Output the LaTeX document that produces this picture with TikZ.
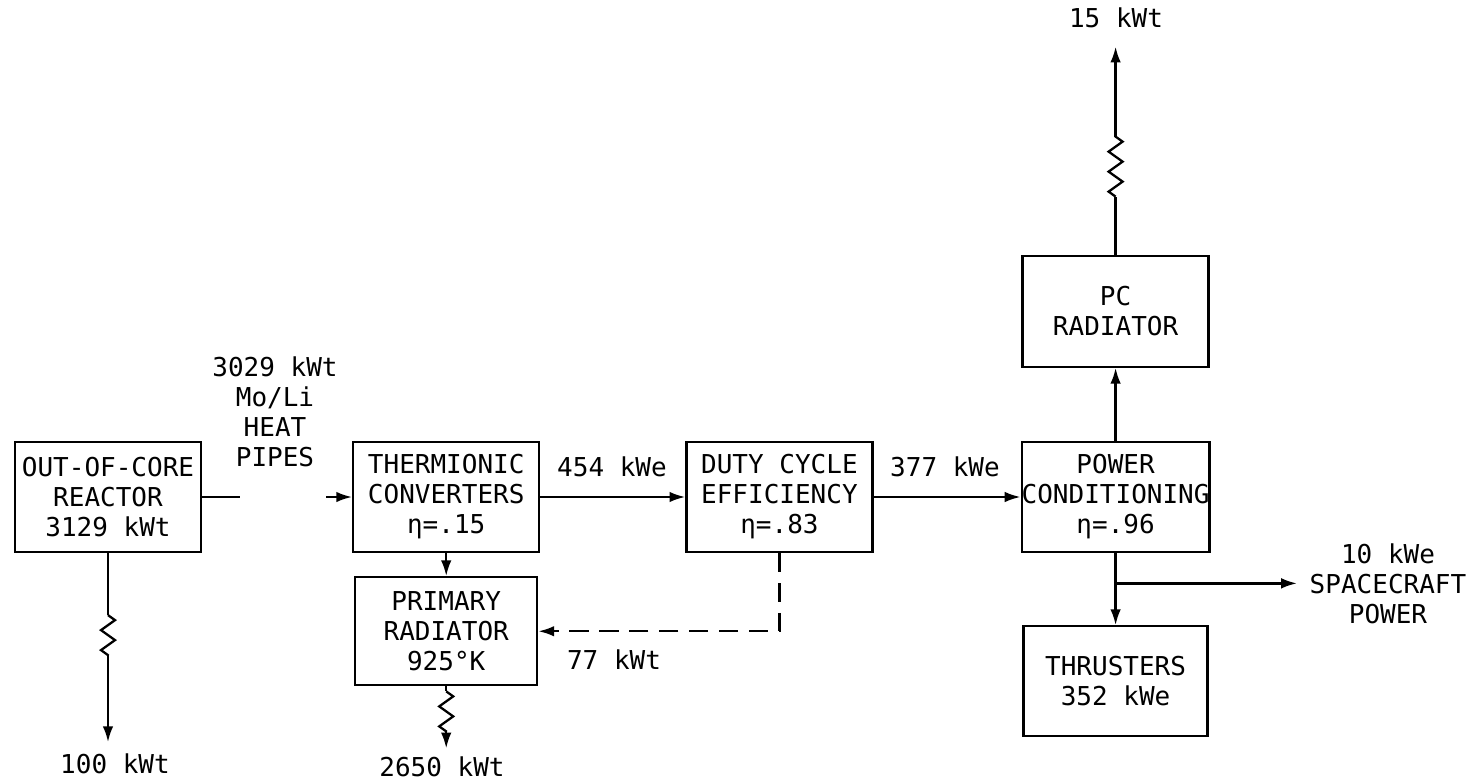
\documentclass[tikz,border=0pt]{standalone}
\usepackage{fontspec}
\setmainfont{DejaVu Sans Mono}
\usetikzlibrary{positioning, arrows.meta, decorations.pathmorphing, calc}

\begin{document}
\begin{tikzpicture}[x=0.02cm, y=-0.02cm, >={Latex[length=9pt,width=6pt]}, line width=1.3pt,
    every node/.style={font=\fontsize{14.8}{17.1}\selectfont, align=center}]
    \tikzstyle{block} = [rectangle, draw, minimum width=3.72cm, minimum height=2.2cm, inner sep=0pt]
    \tikzstyle{line} = [draw, ->]
    \tikzstyle{heatloss} = [draw, decorate, decoration={zigzag, segment length=0.4cm, amplitude=0.14cm}]
    \useasboundingbox (0,0) rectangle (1484,784);

    % main chain
    \node [block] (reactor) at (108,497) {OUT-OF-CORE\\REACTOR\\3129 kWt};
    \node [block, right=3.0cm of reactor] (therm) {THERMIONIC\\CONVERTERS\\η=.15};
    \node [block, right=2.9cm of therm] (duty) {DUTY CYCLE\\EFFICIENCY\\η=.83};
    \node [block, right=2.94cm of duty] (power) {POWER\\CONDITIONING\\η=.96};
    \node [block, above=1.46cm of power, minimum height=2.22cm] (pcrad) {PC\\RADIATOR};
    \node [block, below=1.44cm of power, minimum width=3.68cm] (thrust) {THRUSTERS\\352 kWe};
    \node [block, below=0.46cm of therm, minimum width=3.64cm, minimum height=2.16cm] (primary) {PRIMARY\\RADIATOR\\925°K};

    % labels
    \node (lpipes) at (275,412) {3029 kWt\\Mo/Li\\HEAT\\PIPES};
    \node (l454) at (612,467) {454 kWe};
    \node (l377) at (945,467) {377 kWe};
    \node (l77) at (614,660) {77 kWt};
    \node (l100) at (115,764) {100 kWt};
    \node (l2650) at (442,767) {2650 kWt};
    \node (l15) at (1116,18) {15 kWt};
    \node (lsc) at (1388,584) {10 kWe\\SPACECRAFT\\POWER};

    \coordinate (hp1) at (240,497);
    \coordinate (hp2) at (326,497);
    \coordinate (r1) at ($(reactor.south)+(0,62)$);
    \coordinate (r2) at ($(reactor.south)+(0,102)$);
    \coordinate (r3) at ($(reactor.south)+(0,189)$);
    \coordinate (p1) at ($(primary.south)+(0,5)$);
    \coordinate (p2) at ($(primary.south)+(0,45)$);
    \coordinate (p3) at ($(primary.south)+(0,62)$);
    \coordinate (c1) at ($(pcrad.north)+(0,-58)$);
    \coordinate (c2) at ($(pcrad.north)+(0,-118)$);
    \coordinate (c3) at ($(pcrad.north)+(0,-208)$);
    \coordinate (split) at ($(power.south)!0.42!(thrust.north)$);
    \coordinate (sc) at (1297,584);

    \path [draw] (reactor) -- (hp1);
    \path [line] (hp2) -- (therm);
    \path [line] (therm) -- (duty);
    \path [line] (duty) -- (power);
    \path [line] (therm) -- (primary);
    \path [line] (power) -- (pcrad);
    \path [line] (power.south) -- (thrust.north);
    \path [line] (split) -- (split -| sc);
    \path [line, dash pattern=on 11pt off 6pt] (duty.south) |- (primary.east);

    % heat rejection
    \path [draw] (reactor.south) -- (r1);
    \path [heatloss] (r1) -- (r2);
    \path [line] (r2) -- (r3);
    \path [draw] (primary.south) -- (p1);
    \path [heatloss] (p1) -- (p2);
    \path [line] (p2) -- (p3);
    \path [draw] (pcrad.north) -- (c1);
    \path [heatloss] (c1) -- (c2);
    \path [line] (c2) -- (c3);
\end{tikzpicture}
\end{document}
